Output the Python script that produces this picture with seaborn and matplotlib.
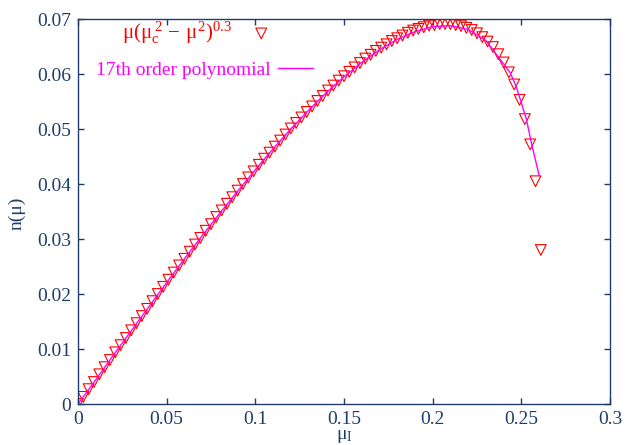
import numpy as np
import pandas as pd
import matplotlib
matplotlib.use("Agg")
import matplotlib.pyplot as plt
import seaborn as sns

# puntos (triangulos)
mu_pts = [0.000, 0.003, 0.006, 0.009, 0.012, 0.015, 0.018, 0.021, 0.024, 0.027,
          0.030, 0.033, 0.036, 0.039, 0.042, 0.045, 0.048, 0.051, 0.054, 0.057,
          0.060, 0.063, 0.066, 0.069, 0.072, 0.075, 0.078, 0.081, 0.084, 0.087,
          0.090, 0.093, 0.096, 0.099, 0.102, 0.105, 0.108, 0.111, 0.114, 0.117,
          0.120, 0.123, 0.126, 0.129, 0.132, 0.135, 0.138, 0.141, 0.144, 0.147,
          0.150, 0.153, 0.156, 0.159, 0.162, 0.165, 0.168, 0.171, 0.174, 0.177,
          0.180, 0.183, 0.186, 0.189, 0.192, 0.195, 0.198, 0.201, 0.204, 0.207,
          0.210, 0.213, 0.216, 0.219, 0.222, 0.225, 0.228, 0.231, 0.234, 0.237,
          0.240, 0.243, 0.246, 0.249, 0.252, 0.255, 0.258, 0.261]
n_pts = [0.0000, 0.0013, 0.0027, 0.0040, 0.0054, 0.0067, 0.0080, 0.0094, 0.0107, 0.0120,
         0.0134, 0.0147, 0.0160, 0.0173, 0.0187, 0.0200, 0.0213, 0.0226, 0.0239, 0.0252,
         0.0264, 0.0277, 0.0290, 0.0302, 0.0315, 0.0327, 0.0340, 0.0352, 0.0364, 0.0376,
         0.0388, 0.0400, 0.0412, 0.0423, 0.0435, 0.0446, 0.0457, 0.0468, 0.0479, 0.0490,
         0.0501, 0.0511, 0.0521, 0.0531, 0.0541, 0.0551, 0.0560, 0.0570, 0.0579, 0.0588,
         0.0596, 0.0604, 0.0612, 0.0620, 0.0628, 0.0635, 0.0642, 0.0648, 0.0654, 0.0660,
         0.0665, 0.0670, 0.0675, 0.0679, 0.0682, 0.0685, 0.0688, 0.0689, 0.0691, 0.0691,
         0.0691, 0.0689, 0.0687, 0.0684, 0.0680, 0.0674, 0.0667, 0.0659, 0.0649, 0.0636,
         0.0621, 0.0603, 0.0581, 0.0553, 0.0518, 0.0472, 0.0405, 0.0280]

# polinomio de orden 17
mu_poly = [0.000, 0.010, 0.020, 0.030, 0.040, 0.050, 0.060, 0.070, 0.080, 0.090,
           0.100, 0.110, 0.120, 0.130, 0.140, 0.150, 0.160, 0.170, 0.180, 0.190,
           0.200, 0.210, 0.220, 0.230, 0.2436, 0.2468, 0.2498, 0.2530, 0.2558, 0.2601]
n_poly = [0.0000, 0.0044, 0.0089, 0.0133, 0.0177, 0.0221, 0.0264, 0.0306, 0.0347, 0.0387,
          0.0426, 0.0464, 0.0500, 0.0534, 0.0566, 0.0595, 0.0621, 0.0644, 0.0663, 0.0677,
          0.0686, 0.0688, 0.0681, 0.0661, 0.0603, 0.0580, 0.0550, 0.0516, 0.0473, 0.0415]

xticks = [0, 0.05, 0.1, 0.15, 0.2, 0.25, 0.3]
xticklabels = ['0', '0.05', '0.1', '0.15', '0.2', '0.25', '0.3']
yticks = [0, 0.01, 0.02, 0.03, 0.04, 0.05, 0.06, 0.07]
yticklabels = ['0', '0.01', '0.02', '0.03', '0.04', '0.05', '0.06', '0.07']

navy = '#1f3d6b'

sns.set_style('ticks')
plt.rcParams['font.family'] = ['Liberation Serif', 'DejaVu Serif']
plt.rcParams['mathtext.fontset'] = 'custom'
plt.rcParams['mathtext.rm'] = 'Liberation Serif'
plt.rcParams['mathtext.it'] = 'Liberation Serif'

df_pts = pd.DataFrame({'mu': mu_pts, 'n': n_pts})
df_poly = pd.DataFrame({'mu': mu_poly, 'n': n_poly})

fig, ax = plt.subplots(figsize=(6.28, 4.45), dpi=100)
fig.subplots_adjust(left=0.1242, right=0.9713, top=0.9573, bottom=0.0921)

sns.scatterplot(data=df_pts, x='mu', y='n', marker='v', s=60,
                facecolors='none', edgecolors='red', linewidths=0.8, ax=ax)
sns.lineplot(data=df_poly, x='mu', y='n', color='magenta', linewidth=1.0,
             sort=False, ax=ax)

ax.set_xlim(0, 0.3)
ax.set_ylim(0, 0.07)
ax.set_xticks(xticks)
ax.set_xticklabels(xticklabels)
ax.set_yticks(yticks)
ax.set_yticklabels(yticklabels)
ax.tick_params(direction='in', length=4, width=1, colors=navy, labelsize=14,
               top=True, right=True, pad=5)
for s in ax.spines.values():
    s.set_color(navy)
    s.set_linewidth(1.0)

ax.set_xlabel(r'$\mu_{\rm I}$', fontsize=14, color=navy)
ax.set_ylabel('n(μ)', fontsize=14, color=navy)
ax.xaxis.set_label_coords(0.5, -0.062)
ax.yaxis.set_label_coords(-0.098, 0.496)

# leyenda estilo gnuplot: texto a la izquierda, muestra a la derecha
pts_handle = ax.collections[0]
line_handle = ax.lines[0]
leg1 = ax.legend([pts_handle], [r'$\mu(\mu_{\rm c}^{\,2}\,-\,\mu^{2})^{0.3}$'],
                 loc='center right', bbox_to_anchor=(0.364, 0.9636),
                 frameon=False, markerfirst=False, fontsize=15,
                 handlelength=1.0, handletextpad=0.9, borderpad=0,
                 borderaxespad=0, labelcolor='red')
ax.add_artist(leg1)
ax.legend([line_handle], ['17th order polynomial'],
          loc='center right', bbox_to_anchor=(0.4417, 0.8675),
          frameon=False, markerfirst=False, fontsize=14,
          handlelength=1.8, handletextpad=0.4, borderpad=0,
          borderaxespad=0, labelcolor='magenta')

plt.savefig('out.png', dpi=100)
